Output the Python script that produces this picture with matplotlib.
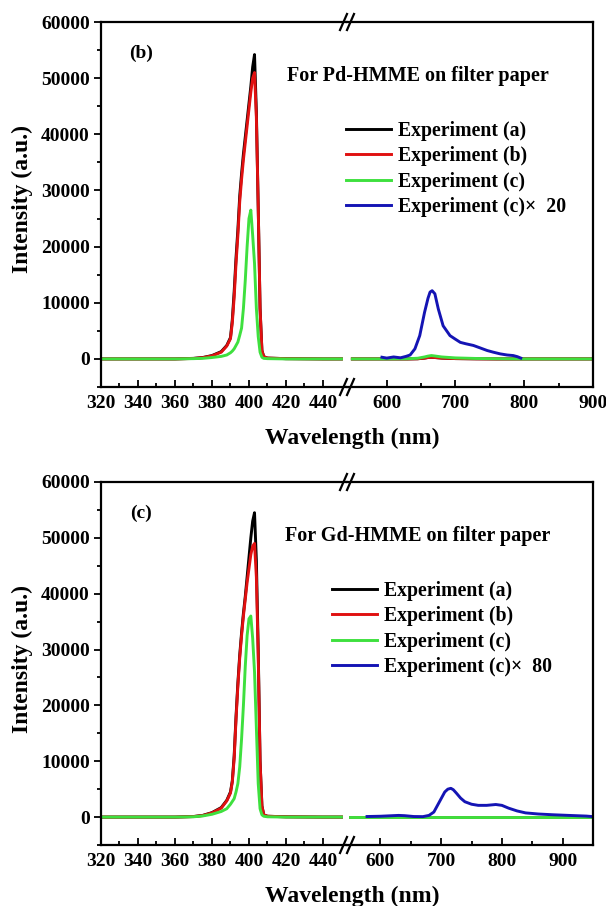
import numpy as np
import matplotlib
matplotlib.use("Agg")
import matplotlib.pyplot as plt
from matplotlib.ticker import MultipleLocator, FixedLocator
from matplotlib.lines import Line2D

plt.rcParams['font.family'] = ['Liberation Serif', 'DejaVu Serif']
plt.rcParams['font.weight'] = 'bold'
plt.rcParams['axes.labelweight'] = 'bold'

W, H = 606, 906

# --- DATA : panneau (b) Pd-HMME ---
B_WL_LEFT = [320, 340, 360, 370, 375, 380, 385, 388, 390, 391, 392, 393, 394, 395, 396, 397,
             398, 399, 400, 401, 402, 403, 404, 405, 406, 407, 408, 410, 420, 440, 450]
B_EXP_A = [0, 0, 0, 100, 250, 600, 1300, 2400, 3800, 7000, 12000, 18000, 23000, 29000, 33000, 36500,
           39500, 42500, 45500, 48500, 52000, 54200, 44000, 27000, 9000, 1500, 400, 150, 50, 0, 0]
B_EXP_B = [0, 0, 0, 80, 220, 550, 1200, 2300, 3600, 6500, 11000, 17000, 22000, 28000, 32000, 35500,
           38500, 41500, 44500, 47500, 50000, 51000, 43000, 27000, 9000, 1500, 400, 150, 50, 0, 0]
B_EXP_C = [0, 0, 0, 50, 100, 250, 450, 700, 1100, 1400, 1800, 2400, 3000, 4200, 5500, 9000,
           14000, 20000, 25000, 26500, 22000, 17000, 9000, 4000, 1200, 300, 100, 50, 0, 0, 0]
B_WL_RIGHT = [550, 600, 630, 645, 655, 660, 665, 670, 680, 700, 730, 760, 800, 850, 900]
B_EXP_A_R = [0, 0, 0, 30, 150, 250, 300, 250, 150, 60, 20, 0, 0, 0, 0]
B_EXP_B_R = [0, 0, 0, 30, 150, 250, 300, 250, 150, 60, 20, 0, 0, 0, 0]
B_EXP_C_R = [0, 0, 30, 120, 350, 500, 600, 520, 350, 180, 80, 40, 0, 0, 0]
B_WL_X20 = [593, 600, 610, 620, 628, 634, 641, 648, 655, 660, 663, 666, 670, 675, 682, 692,
            700, 707, 715, 726, 735, 746, 755, 765, 775, 784, 790, 795]
B_EXP_C_X20 = [300, 150, 350, 200, 450, 700, 1800, 4150, 8300, 10800, 11900, 12150, 11600, 8900, 5900, 4150,
               3500, 2950, 2700, 2400, 2000, 1500, 1200, 900, 700, 600, 400, 150]

# --- DATA : panneau (c) Gd-HMME ---
C_WL_LEFT = B_WL_LEFT
C_EXP_A = [0, 0, 0, 100, 300, 800, 1700, 3000, 4500, 6500, 11000, 18000, 24000, 29000, 33000, 36500,
           39500, 43000, 46500, 50000, 53000, 54500, 46000, 30000, 10000, 2000, 400, 150, 50, 0, 0]
C_EXP_B = [0, 0, 0, 90, 270, 750, 1600, 2900, 4300, 6300, 10500, 17500, 23500, 28500, 32500, 36000,
           39000, 42000, 44500, 47000, 48500, 49000, 43000, 29000, 10000, 2000, 400, 150, 50, 0, 0]
C_EXP_C = [0, 0, 0, 50, 200, 500, 1000, 1500, 2300, 2800, 3300, 4500, 6000, 9000, 14000, 20000,
           27000, 32500, 35500, 36000, 32000, 26000, 16000, 6000, 1500, 400, 150, 50, 0, 0, 0]
C_WL_RIGHT = [550, 700, 950]
C_EXP_A_R = [0, 0, 0]
C_EXP_B_R = [0, 0, 0]
C_EXP_C_R = [0, 0, 0]
C_WL_X80 = [578, 600, 620, 630, 640, 655, 670, 680, 688, 695, 700, 706, 711, 716, 720, 725,
            732, 739, 750, 761, 775, 790, 800, 811, 825, 839, 860, 883, 910, 939, 950]
C_EXP_C_X80 = [100, 150, 250, 300, 250, 100, 80, 300, 900, 2300, 3300, 4500, 5000, 5150, 4900, 4300,
               3400, 2750, 2300, 2100, 2100, 2250, 2100, 1600, 1100, 750, 550, 420, 300, 180, 80]

LABELS = ['Experiment (a)', 'Experiment (b)', 'Experiment (c)']
COLORS = ['black', '#e01010', '#3ee03e', '#1414b4']


def px_rect(x0, y0, x1, y1):
    return [x0 / W, 1 - y1 / H, (x1 - x0) / W, (y1 - y0) / H]


def style_axis(ax, side):
    for s in ax.spines.values():
        s.set_linewidth(1.6)
    ax.tick_params(axis='x', which='both', direction='in', top=False, width=1.3, labelsize=14, pad=6)
    ax.tick_params(axis='x', which='major', length=5)
    ax.tick_params(axis='x', which='minor', length=3)
    if side == 'left':
        ax.spines['right'].set_visible(False)
        ax.tick_params(axis='y', which='both', direction='out', right=False, width=1.3, labelsize=14)
        ax.tick_params(axis='y', which='major', length=5, pad=3)
        ax.tick_params(axis='y', which='minor', length=3)
        ax.yaxis.set_major_locator(MultipleLocator(10000))
        ax.yaxis.set_minor_locator(MultipleLocator(5000))
    else:
        ax.spines['left'].set_visible(False)
        ax.tick_params(axis='y', which='both', left=False, right=False, labelleft=False)


def break_marks(xb, yb):
    # petits "//" du break d'axe (en pixels figure)
    for dx in (-3.5, 3.5):
        x0, x1 = xb + dx - 3.5, xb + dx + 3.5
        y0, y1 = yb + 8, yb - 8
        fig.add_artist(Line2D([x0 / W, x1 / W], [1 - y0 / H, 1 - y1 / H], color='black', lw=1.6))


def draw_panel(top, bottom, xb, xlim_left, xlim_right, wl_l, series_l, wl_r, series_r,
               wl_x, ser_x, x_label, tag, title, leg_xy):
    axl = fig.add_axes(px_rect(101, top, xb, bottom))
    axr = fig.add_axes(px_rect(xb, top, 593, bottom), sharey=axl)
    handles = []
    for vals, c in zip(series_l, COLORS[:3]):
        h, = axl.plot(wl_l, vals, color=c, lw=2.1)
        handles.append(h)
    for vals, c in zip(series_r, COLORS[:3]):
        axr.plot(wl_r, vals, color=c, lw=2.1)
    hb, = axr.plot(wl_x, ser_x, color=COLORS[3], lw=2.1)
    handles.append(hb)

    axl.set_xlim(*xlim_left)
    axr.set_xlim(*xlim_right)
    axl.set_ylim(-5000, 60000)
    axl.xaxis.set_major_locator(MultipleLocator(20))
    axl.xaxis.set_minor_locator(FixedLocator([330, 350, 370, 390, 410, 430]))
    axr.xaxis.set_major_locator(FixedLocator([t for t in (600, 700, 800, 900) if t < xlim_right[1] + 1]))
    axr.xaxis.set_minor_locator(FixedLocator([650, 750, 850]))
    style_axis(axl, 'left')
    style_axis(axr, 'right')
    fig.text(22 / W, 1 - (top + 177) / H, 'Intensity (a.u.)', rotation=90,
             ha='center', va='center', fontsize=17)

    fig.text(352 / W, 1 - (bottom + 51) / H, 'Wavelength (nm)', ha='center', va='center', fontsize=17)
    fig.text(141 / W, 1 - (top + 31) / H, tag, ha='center', va='center', fontsize=14)
    fig.text(418 / W, 1 - (top + 54) / H, title, ha='center', va='center', fontsize=14.5)

    fig.legend(handles, LABELS + [x_label], loc='upper left', frameon=False,
               bbox_to_anchor=(leg_xy[0] / W, 1 - leg_xy[1] / H), borderpad=0, borderaxespad=0,
               handlelength=2.3, handletextpad=0.35, labelspacing=0.27, prop={'size': 14.2, 'weight': 'bold'})

    break_marks(xb, top)
    break_marks(xb, bottom)


fig = plt.figure(figsize=(W / 100, H / 100), dpi=100)

draw_panel(22, 387, 347, (320, 453), (542.2, 900), B_WL_LEFT, [B_EXP_A, B_EXP_B, B_EXP_C],
           B_WL_RIGHT, [B_EXP_A_R, B_EXP_B_R, B_EXP_C_R], B_WL_X20, B_EXP_C_X20,
           'Experiment (c)×  20', '(b)', 'For Pd-HMME on filter paper', (346, 121))

draw_panel(482, 845, 347, (320, 453), (545, 950), C_WL_LEFT, [C_EXP_A, C_EXP_B, C_EXP_C],
           C_WL_RIGHT, [C_EXP_A_R, C_EXP_B_R, C_EXP_C_R], C_WL_X80, C_EXP_C_X80,
           'Experiment (c)×  80', '(c)', 'For Gd-HMME on filter paper', (332, 581))

fig.savefig('out.png', dpi=100)
